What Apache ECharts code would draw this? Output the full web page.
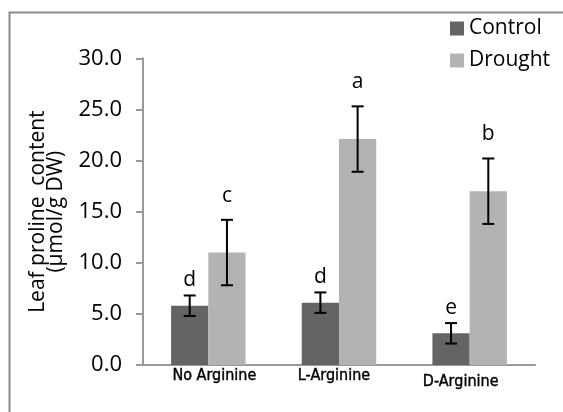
<!DOCTYPE html>
<html>
<head>
<meta charset="utf-8">
<script src="https://cdn.jsdelivr.net/npm/echarts@6/dist/echarts.min.js"></script>
<style>html,body{margin:0;padding:0;background:#fff}#c{width:563px;height:412px}</style>
</head>
<body>
<div id="c"></div>
<script>
const categories = ['No Arginine', 'L-Arginine', 'D-Arginine'];
const seriesNames = ['Control', 'Drought'];
const controlMean = [5.8, 6.1, 3.1];
const droughtMean = [11.0, 22.1, 17.0];
const controlErr = [1.0, 1.0, 1.0];
const droughtErr = [3.2, 3.2, 3.2];
const controlLetters = ['d', 'd', 'e'];
const droughtLetters = ['c', 'a', 'b'];
const yTicks = [0, 5, 10, 15, 20, 25, 30];

const FONT = "'Open Sans', 'DejaVu Sans', sans-serif";
const CAT_FONT = "'DejaVu Sans Condensed', 'Liberation Sans Narrow', 'Open Sans', sans-serif";
const GAP = 0.43;           // category gap fraction
const COLORS = ['#646464', '#b3b3b3'];
const LETTER_OFF = [15, 24]; // px above error-bar top
const labelPad = [[0, 0, 0, 12], [0, 10, 0, 0], [6, 18, 0, 0]];

const chart = echarts.init(document.getElementById('c'), null, {renderer: 'canvas'});

function errSeries(means, errs, letters, si) {
  return {
    type: 'custom',
    name: seriesNames[si] + ' err',
    z: 5,
    silent: true,
    data: means.map((m, i) => [i, m, errs[i]]),
    renderItem: function (params, api) {
      const i = api.value(0), m = api.value(1), e = api.value(2);
      const band = api.size([1, 0])[0];
      const bw = band * (1 - GAP) / 2;
      const off = si === 0 ? -bw / 2 : bw / 2;
      const top = api.coord([i, m + e]);
      const bot = api.coord([i, m - e]);
      const x = top[0] + off;
      const cap = 6;
      const st = {stroke: '#000', lineWidth: 2};
      return {
        type: 'group',
        children: [
          {type: 'line', shape: {x1: x, y1: top[1], x2: x, y2: bot[1]}, style: st},
          {type: 'line', shape: {x1: x - cap, y1: top[1], x2: x + cap, y2: top[1]}, style: st},
          {type: 'line', shape: {x1: x - cap, y1: bot[1], x2: x + cap, y2: bot[1]}, style: st},
          {type: 'text', x: x, y: top[1] - LETTER_OFF[si],
           style: {text: letters[params.dataIndex], font: '21px ' + FONT, fill: '#000',
                   align: 'center', verticalAlign: 'middle'}}
        ]
      };
    }
  };
}

const option = {
  animation: false,
  grid: {left: 143, right: 28, top: 58.3, bottom: 47, containLabel: false},
  graphic: [{
    type: 'rect', left: 7, top: 10, silent: true,
    shape: {x: 0, y: 0, width: 620, height: 460},
    style: {fill: 'none', stroke: '#8a8a8a', lineWidth: 2}
  }],
  legend: {
    data: seriesNames,
    orient: 'vertical',
    left: 450, top: 18, padding: 0,
    itemWidth: 14, itemHeight: 14, itemGap: 11,
    icon: 'rect',
    textStyle: {fontFamily: FONT, fontSize: 21, color: '#000'},
    itemStyle: {borderWidth: 0}
  },
  xAxis: {
    type: 'category',
    data: categories.map((c, i) => ({value: c, textStyle: {padding: labelPad[i]}})),
    axisLine: {lineStyle: {color: '#999', width: 2}},
    axisTick: {show: false},
    axisLabel: {interval: 0, fontFamily: CAT_FONT, fontWeight: 'normal', fontSize: 16, color: '#000', margin: 3,
                textBorderColor: '#000', textBorderWidth: 0.4}
  },
  yAxis: {
    type: 'value',
    min: yTicks[0], max: yTicks[yTicks.length - 1], interval: 5,
    name: 'Leaf proline  content\n(µmol/g DW)',
    nameLocation: 'middle',
    nameGap: 78,
    nameTextStyle: {fontFamily: FONT, fontSize: 21, color: '#000', lineHeight: 18},
    axisLine: {show: true, lineStyle: {color: '#999', width: 2}},
    axisTick: {show: true, length: 7, lineStyle: {color: '#999', width: 2}},
    splitLine: {show: false},
    axisLabel: {fontFamily: FONT, fontSize: 22, color: '#000', margin: 21,
                formatter: v => v.toFixed(1)}
  },
  series: [
    {type: 'bar', name: seriesNames[0], data: controlMean, barGap: '0%', barCategoryGap: (GAP * 100) + '%',
     itemStyle: {color: COLORS[0]}},
    {type: 'bar', name: seriesNames[1], data: droughtMean, barGap: '0%', barCategoryGap: (GAP * 100) + '%',
     itemStyle: {color: COLORS[1]}},
    errSeries(controlMean, controlErr, controlLetters, 0),
    errSeries(droughtMean, droughtErr, droughtLetters, 1)
  ]
};
chart.setOption(option);
</script>
</body>
</html>
